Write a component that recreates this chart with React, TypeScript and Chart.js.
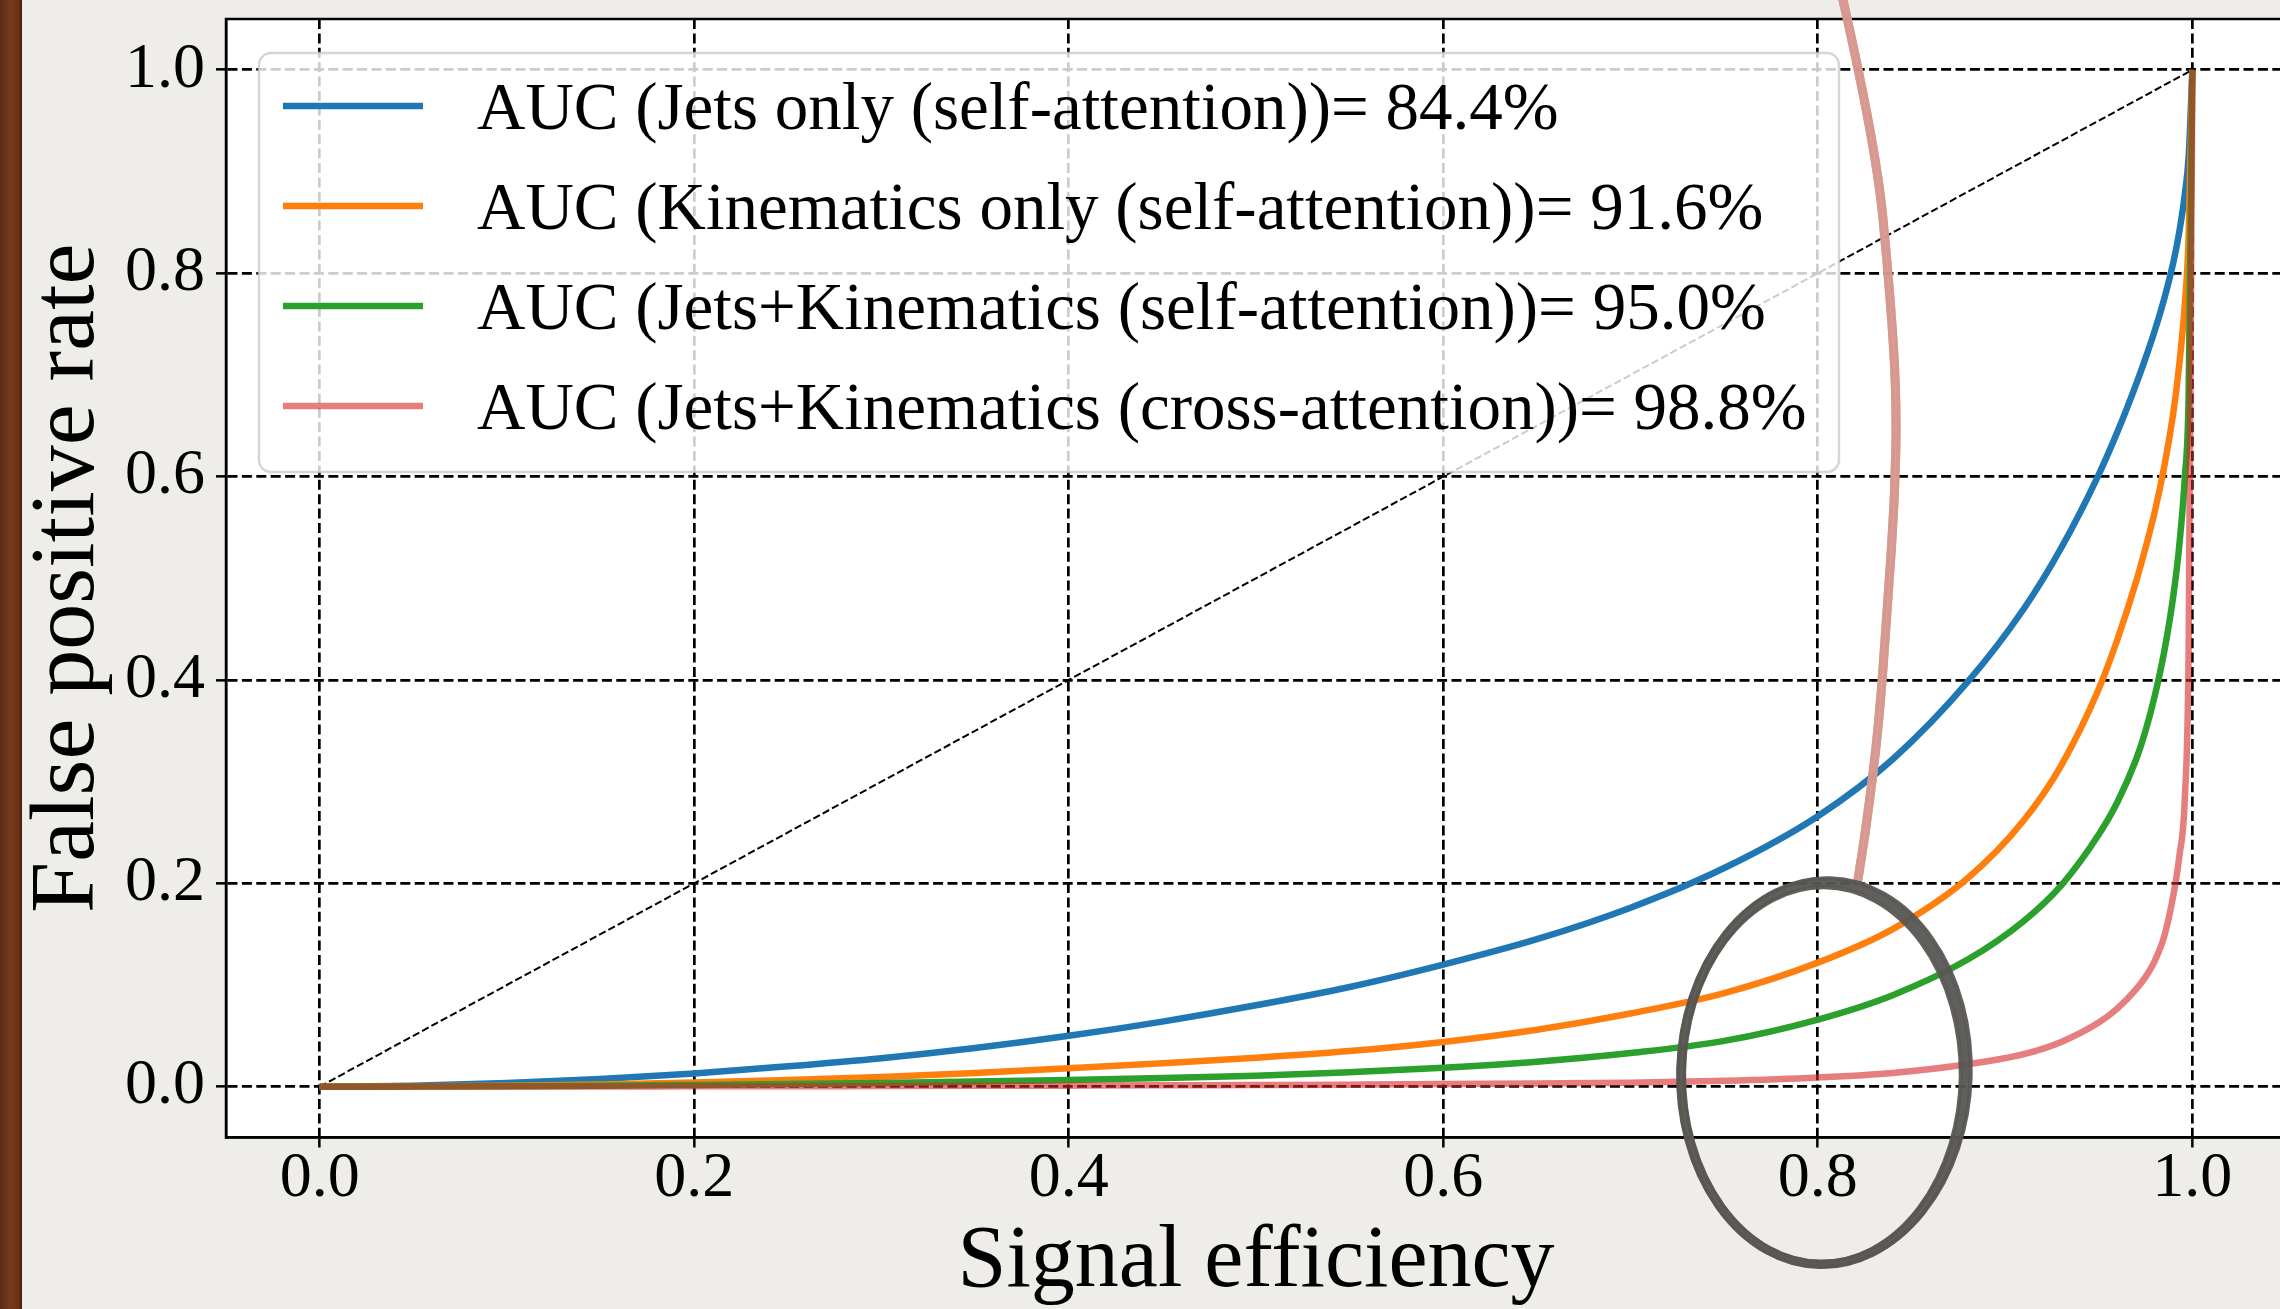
import React, { useEffect, useRef } from 'react';
import { Chart, registerables } from 'chart.js';

Chart.register(...registerables);

// ---- data ----
const signalEfficiency = [0, 0.05, 0.1, 0.15, 0.2, 0.25, 0.3, 0.35, 0.4, 0.45, 0.5, 0.55, 0.6, 0.65, 0.7, 0.75, 0.8, 0.84, 0.88, 0.91, 0.93, 0.95, 0.96, 0.97, 0.975, 0.98, 0.985, 0.99, 0.993, 0.996, 0.998, 1.0];
const fprJetsOnly = [0, 0.001, 0.0035, 0.0075, 0.013, 0.02, 0.028, 0.038, 0.05, 0.064, 0.08, 0.098, 0.12, 0.145, 0.176, 0.215, 0.266, 0.322, 0.398, 0.47, 0.53, 0.602, 0.644, 0.691, 0.7165, 0.744, 0.775, 0.812, 0.8405, 0.878, 0.914, 1.0];
const fprKinematicsOnly = [0, 0.0003, 0.001, 0.0022, 0.004, 0.0065, 0.0095, 0.0135, 0.018, 0.023, 0.0285, 0.035, 0.044, 0.056, 0.072, 0.092, 0.122, 0.155, 0.205, 0.262, 0.316, 0.391, 0.44, 0.497, 0.53, 0.566, 0.61, 0.665, 0.71, 0.77, 0.835, 1.0];
const fprJetsKinSelf = [0, 0.0001, 0.0004, 0.0009, 0.0017, 0.0026, 0.0037, 0.005, 0.0066, 0.0085, 0.0107, 0.0142, 0.0185, 0.0245, 0.033, 0.045, 0.066, 0.09, 0.125, 0.163, 0.198, 0.248, 0.28, 0.322, 0.35, 0.385, 0.428, 0.485, 0.532, 0.6, 0.68, 1.0];
const fprJetsKinCross = [0, 0.00005, 0.0001, 0.0002, 0.0003, 0.0004, 0.0006, 0.0008, 0.001, 0.0013, 0.0016, 0.002, 0.0025, 0.0031, 0.0039, 0.0057, 0.009, 0.0135, 0.022, 0.032, 0.044, 0.063, 0.077, 0.096, 0.108, 0.124, 0.148, 0.19, 0.226, 0.285, 0.43, 1.0];

const seriesLabels = [
  'AUC (Jets only (self-attention))= 84.4%',
  'AUC (Kinematics only (self-attention))= 91.6%',
  'AUC (Jets+Kinematics (self-attention))= 95.0%',
  'AUC (Jets+Kinematics (cross-attention))= 98.8%',
];
const seriesColors = ['#1f77b4', '#ff7f0e', '#2ca02c', 'rgba(214,39,40,0.6)'];

const randomGuess = [0, 1];
const tickValues = [0, 0.2, 0.4, 0.6, 0.8, 1.0];
const axisMin = -0.05;
const axisMax = 1.05;

// hand-drawn slide annotations, in data units
const highlightEllipse = [0.803, 0.013, 0.076, 0.188]; // cx, cy, rx, ry
const strokeX = [0.8134, 0.831, 0.8385, 0.8422, 0.8411, 0.8374, 0.8326, 0.8257, 0.8214];
const strokeY = [1.0689, 0.9262, 0.7826, 0.6754, 0.577, 0.4787, 0.3538, 0.2535, 0.2033];

const SERIF = "'Liberation Serif', 'Times New Roman', serif";

const paperPlugin = {
  id: 'paper',
  beforeDraw(chart: any) {
    const { ctx, width, height, chartArea } = chart;
    ctx.save();
    ctx.fillStyle = '#eeede9';
    ctx.fillRect(0, 0, width, height);
    const g = ctx.createLinearGradient(0, 0, 22, 0);
    g.addColorStop(0, '#5a2c15');
    g.addColorStop(0.45, '#76391b');
    g.addColorStop(0.85, '#6b3418');
    g.addColorStop(1, '#3c1c0c');
    ctx.fillStyle = g;
    ctx.fillRect(0, 0, 22, height);
    ctx.fillStyle = '#ffffff';
    ctx.fillRect(chartArea.left, chartArea.top, chartArea.right - chartArea.left, chartArea.bottom - chartArea.top);
    ctx.restore();
  },
};

const framePlugin = {
  id: 'frame',
  afterDatasetsDraw(chart: any) {
    const { ctx, chartArea } = chart;
    ctx.save();
    ctx.strokeStyle = '#000';
    ctx.lineWidth = 2.5;
    ctx.setLineDash([]);
    ctx.strokeRect(chartArea.left, chartArea.top, chartArea.right - chartArea.left, chartArea.bottom - chartArea.top);
    ctx.restore();
  },
};

const insideLegendPlugin = {
  id: 'insideLegend',
  afterDatasetsDraw(chart: any) {
    const { ctx, chartArea } = chart;
    const boxL = chartArea.left + 33;
    const boxT = chartArea.top + 34;
    const boxW = 1580;
    const boxH = 419;
    ctx.save();
    ctx.setLineDash([]);
    ctx.beginPath();
    ctx.roundRect(boxL, boxT, boxW, boxH, 12);
    ctx.fillStyle = 'rgba(255,255,255,0.8)';
    ctx.fill();
    ctx.lineWidth = 2.5;
    ctx.strokeStyle = 'rgba(204,204,204,0.8)';
    ctx.stroke();
    let row = 0;
    chart.data.datasets.forEach((ds: any) => {
      if (!ds.label) return;
      const y = boxT + 53 + row * 100;
      ctx.beginPath();
      ctx.moveTo(boxL + 24, y);
      ctx.lineTo(boxL + 164, y);
      ctx.strokeStyle = ds.borderColor;
      ctx.lineWidth = 6.5;
      ctx.lineCap = 'butt';
      ctx.stroke();
      ctx.font = `67px ${SERIF}`;
      ctx.fillStyle = '#000';
      ctx.textBaseline = 'alphabetic';
      ctx.textAlign = 'left';
      ctx.fillText(ds.label, boxL + 218, y + 23);
      row++;
    });
    ctx.restore();
  },
};

const annotationPlugin = {
  id: 'slideAnnotations',
  afterDraw(chart: any) {
    const { ctx } = chart;
    const xs = chart.scales.x;
    const ys = chart.scales.y;
    ctx.save();
    ctx.setLineDash([]);
    // pink hand-drawn stroke
    const pts = strokeX.map((x, i) => [xs.getPixelForValue(x), ys.getPixelForValue(strokeY[i])]);
    ctx.strokeStyle = 'rgba(214,152,142,0.9)';
    ctx.lineCap = 'round';
    ctx.lineJoin = 'round';
    for (const [w, off] of [[9, 0], [4, 2.5], [4, -2.5]]) {
      ctx.lineWidth = w;
      ctx.beginPath();
      ctx.moveTo(pts[0][0] + off, pts[0][1]);
      for (let i = 1; i < pts.length - 1; i++) {
        const mx = (pts[i][0] + pts[i + 1][0]) / 2;
        const my = (pts[i][1] + pts[i + 1][1]) / 2;
        ctx.quadraticCurveTo(pts[i][0] + off, pts[i][1], mx + off, my);
      }
      const last = pts[pts.length - 1];
      ctx.lineTo(last[0] + off, last[1]);
      ctx.stroke();
    }
    // grey hand-drawn ellipse
    const [cx, cy, rx, ry] = highlightEllipse;
    const pcx = xs.getPixelForValue(cx);
    const pcy = ys.getPixelForValue(cy);
    const prx = Math.abs(xs.getPixelForValue(cx + rx) - pcx);
    const pry = Math.abs(ys.getPixelForValue(cy + ry) - pcy);
    ctx.strokeStyle = 'rgba(88,86,82,0.95)';
    ctx.lineWidth = 9;
    ctx.beginPath();
    ctx.ellipse(pcx, pcy, prx, pry, 0.02, 0, Math.PI * 2);
    ctx.stroke();
    ctx.lineWidth = 4;
    ctx.beginPath();
    ctx.ellipse(pcx + 1, pcy - 1, prx + 4, pry + 3, 0.03, 0, Math.PI * 2);
    ctx.stroke();
    ctx.beginPath();
    ctx.ellipse(pcx - 1, pcy + 1, prx - 4, pry - 4, 0.01, 0, Math.PI * 2);
    ctx.stroke();
    ctx.restore();
  },
};

export default function App() {
  const canvasRef = useRef<HTMLCanvasElement>(null);

  useEffect(() => {
    const canvas = canvasRef.current;
    if (!canvas) return;
    const series = [fprJetsOnly, fprKinematicsOnly, fprJetsKinSelf, fprJetsKinCross];
    const datasets: any[] = series.map((ys, i) => ({
      label: seriesLabels[i],
      data: signalEfficiency.map((x, j) => ({ x, y: ys[j] })),
      borderColor: seriesColors[i],
      backgroundColor: seriesColors[i],
      borderWidth: 6.5,
      pointRadius: 0,
      fill: false,
      cubicInterpolationMode: 'monotone',
      order: 4 - i,
    }));
    datasets.push({
      label: '',
      data: randomGuess.map((v) => ({ x: v, y: v })),
      borderColor: '#000',
      backgroundColor: '#000',
      borderWidth: 2,
      borderDash: [7.4, 3.2],
      pointRadius: 0,
      fill: false,
      order: 10,
    });

    const tickFont = { family: SERIF, size: 64, lineHeight: 1 };
    const gridOpts = { color: '#000', lineWidth: 2.7, tickLength: 10, tickWidth: 2.5, tickColor: '#000', tickBorderDash: [] as number[] };
    const borderOpts = { display: true, color: '#000', width: 2.5, dash: [10, 4.4] };
    const setTicks = (s: any) => {
      s.ticks = tickValues.map((v) => ({ value: v }));
    };

    const chart = new Chart(canvas, {
      type: 'line',
      data: { datasets },
      options: {
        responsive: false,
        animation: false,
        layout: { padding: { left: 0, top: 19, right: 14, bottom: 0 } },
        plugins: { legend: { display: false }, tooltip: { enabled: false } },
        scales: {
          x: {
            type: 'linear',
            min: axisMin,
            max: axisMax,
            afterBuildTicks: setTicks,
            afterFit: (s: any) => {
              s.height = 171.5;
              s.paddingLeft = 0;
              s.paddingRight = 0;
            },
            ticks: {
              callback: (v: any) => Number(v).toFixed(1),
              font: tickFont,
              color: '#000',
              padding: 0,
              maxRotation: 0,
              autoSkip: false,
            },
            grid: gridOpts,
            border: borderOpts,
            title: {
              display: true,
              text: 'Signal efficiency',
              color: '#000',
              font: { family: SERIF, size: 88, lineHeight: 1 },
              padding: { top: 0, bottom: 2 },
            },
          },
          y: {
            type: 'linear',
            min: axisMin,
            max: axisMax,
            afterBuildTicks: setTicks,
            afterFit: (s: any) => {
              s.width = 226;
              s.paddingTop = 0;
              s.paddingBottom = 0;
            },
            ticks: {
              callback: (v: any) => Number(v).toFixed(1),
              font: tickFont,
              color: '#000',
              padding: 11,
              autoSkip: false,
            },
            grid: gridOpts,
            border: borderOpts,
            title: {
              display: true,
              text: 'False positive rate',
              color: '#000',
              font: { family: SERIF, size: 92, lineHeight: 1 },
              padding: { top: 23, bottom: 0 },
            },
          },
        },
      } as any,
      plugins: [paperPlugin, framePlugin, insideLegendPlugin, annotationPlugin],
    });
    return () => chart.destroy();
  }, []);

  return (
    <div style={{ position: 'fixed', left: 0, top: 0, width: 2280, height: 1309, overflow: 'hidden', background: '#eeede9' }}>
      <canvas ref={canvasRef} width={2300} height={1309} style={{ display: 'block', width: 2300, height: 1309 }} />
    </div>
  );
}
